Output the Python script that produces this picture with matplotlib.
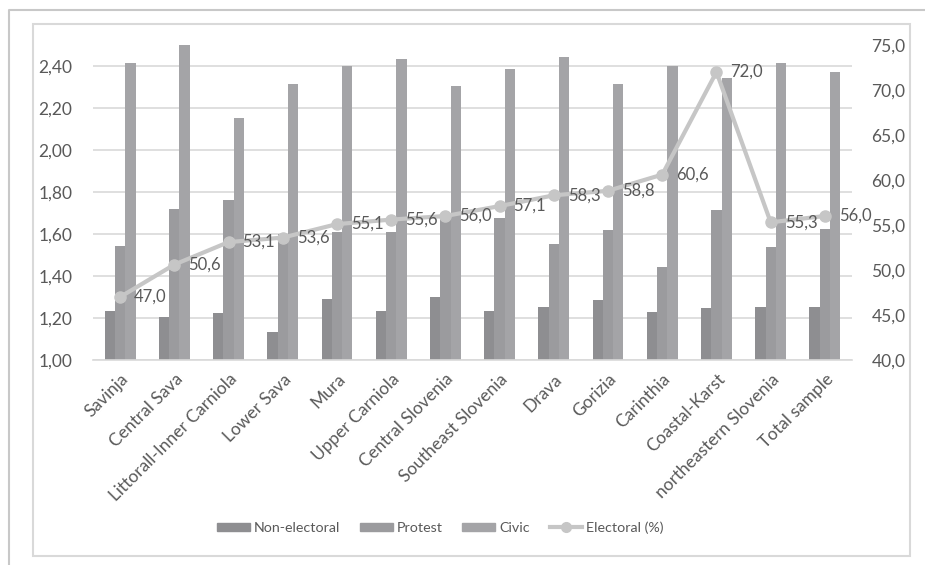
import numpy as np
import matplotlib

matplotlib.use("Agg")
import matplotlib.pyplot as plt
from matplotlib.lines import Line2D
from matplotlib.patches import Patch, Rectangle

plt.rcParams["font.family"] = ["Lato", "DejaVu Sans"]

regions = [
    "Savinja", "Central Sava", "Littorall-Inner Carniola", "Lower Sava", "Mura",
    "Upper Carniola", "Central Slovenia", "Southeast Slovenia", "Drava", "Gorizia",
    "Carinthia", "Coastal-Karst", "northeastern Slovenia", "Total sample",
]
non_electoral = [1.235, 1.203, 1.222, 1.135, 1.292, 1.235, 1.301, 1.233, 1.254, 1.286,
                 1.230, 1.246, 1.254, 1.254]
protest = [1.543, 1.717, 1.762, 1.600, 1.611, 1.611, 1.690, 1.678, 1.551, 1.619,
           1.444, 1.714, 1.536, 1.624]
civic = [2.416, 2.50, 2.154, 2.313, 2.400, 2.435, 2.306, 2.384, 2.444, 2.313,
         2.401, 2.341, 2.413, 2.371]
electoral = [47.0, 50.6, 53.1, 53.6, 55.1, 55.6, 56.0, 57.1, 58.3, 58.8, 60.6, 72.0, 55.3, 56.0]

left_ticks = [1.0, 1.2, 1.4, 1.6, 1.8, 2.0, 2.2, 2.4]
right_ticks = [40, 45, 50, 55, 60, 65, 70, 75]

TEXT = "#595959"
GRID = "#d9d9d9"
C_NE = "#8e8e91"
C_PR = "#9b9b9e"
C_CI = "#a4a4a7"
C_LINE = "#c6c6c6"
FS = 12.5

fig = plt.figure(figsize=(9.25, 5.65), dpi=100)
ax = fig.add_axes([93 / 925, 1 - 360 / 565, 759 / 925, 315 / 565])
ax2 = ax.twinx()

x = np.arange(len(regions))
w = 0.19
ax.bar(x - w, non_electoral, w, color=C_NE, zorder=2)
ax.bar(x, protest, w, color=C_PR, zorder=2)
ax.bar(x + w, civic, w, color=C_CI, zorder=2)

ax.set_xlim(-0.5, len(regions) - 0.5)
ax.set_ylim(1.0, 2.5)
ax.set_yticks(left_ticks)
ax.set_yticklabels([f"{v:.2f}".replace(".", ",") for v in left_ticks])
ax.yaxis.grid(True, color=GRID, lw=1.2, zorder=0)
ax.set_axisbelow(True)
ax.set_xticks(x)
ax.set_xticklabels(regions, rotation=45, ha="right", rotation_mode="anchor")
ax.tick_params(axis="both", length=0, colors=TEXT, labelsize=FS)
ax.tick_params(axis="x", pad=8)
ax.tick_params(axis="y", pad=15)
for side in ["top", "right", "left"]:
    ax.spines[side].set_visible(False)
ax.spines["bottom"].set_color(GRID)
ax.spines["bottom"].set_linewidth(1.2)

ax2.plot(x, electoral, color=C_LINE, lw=3, marker="o", ms=8, zorder=3)
for xi, v in zip(x, electoral):
    ax2.annotate(f"{v:.1f}".replace(".", ","), (xi, v), xytext=(14, 0),
                 textcoords="offset pixels", ha="left", va="center",
                 color=TEXT, fontsize=12)
ax2.set_ylim(40, 75)
ax2.set_yticks(right_ticks)
ax2.set_yticklabels([f"{v:.1f}".replace(".", ",") for v in right_ticks])
ax2.tick_params(axis="y", length=0, colors=TEXT, labelsize=FS, pad=14)
for side in ["top", "right", "left", "bottom"]:
    ax2.spines[side].set_visible(False)

handles = [
    Patch(color=C_NE, label="Non-electoral"),
    Patch(color=C_PR, label="Protest"),
    Patch(color=C_CI, label="Civic"),
    Line2D([], [], color=C_LINE, lw=3, marker="o", ms=7, label="Electoral (%)"),
]
leg = fig.legend(handles=handles, loc="center", bbox_to_anchor=(0.476, 0.066), ncol=4,
                 frameon=False, fontsize=10.3, handlelength=2.3, handleheight=0.5,
                 columnspacing=1.4, handletextpad=0.25)
for t in leg.get_texts():
    t.set_color(TEXT)

# chart frames
fig.patches.append(Rectangle((33 / 925, 1 - 556 / 565), 877 / 925, 532 / 565,
                             transform=fig.transFigure, fill=False, ec="#d9d9d9", lw=1.5))
fig.lines.append(Line2D([9 / 925, 9 / 925, 1.0], [0.0, 1 - 10 / 565, 1 - 10 / 565],
                        transform=fig.transFigure, color="#c8c8c8", lw=1.5))

fig.savefig("out.png", dpi=100)
